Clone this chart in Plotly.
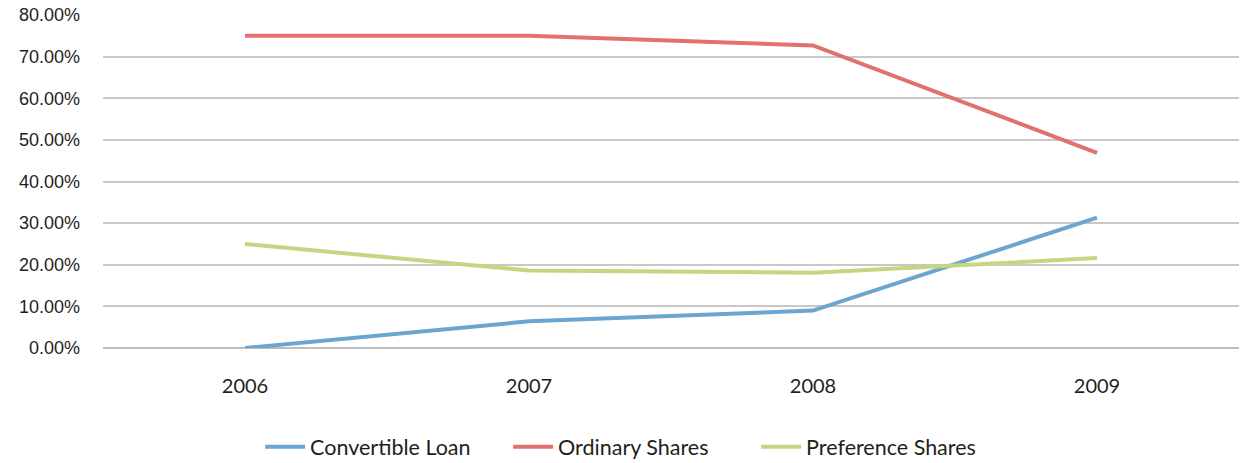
import plotly.graph_objects as go

years = ["2006", "2007", "2008", "2009"]
convertible_loan = [0.0, 6.4, 9.0, 31.3]
ordinary_shares = [75.0, 75.0, 72.7, 46.9]
preference_shares = [25.0, 18.6, 18.1, 21.6]

series = [
    ("Convertible Loan", convertible_loan, "#6ba6d0"),
    ("Ordinary Shares", ordinary_shares, "#e2716e"),
    ("Preference Shares", preference_shares, "#c4d680"),
]

fig = go.Figure()
for name, values, color in series:
    fig.add_trace(go.Scatter(
        x=years, y=values, name=name, mode="lines",
        line=dict(color=color, width=4),
    ))

label_font = "Lato, 'Open Sans', sans-serif"
value_font = "'Liberation Sans', Arial, sans-serif"

fig.update_layout(
    width=1241, height=463,
    margin=dict(l=103, r=2, t=15, b=115),
    paper_bgcolor="white", plot_bgcolor="white",
    font=dict(family=label_font, size=20, color="#1e1e1e"),
    showlegend=True,
    legend=dict(
        orientation="h", xref="container", yref="container",
        x=0.2096, y=0.035, xanchor="left", yanchor="middle",
        font=dict(family=label_font, size=21.5, color="#1e1e1e"),
        itemwidth=40, entrywidth=193, tracegroupgap=0,
    ),
    xaxis=dict(
        type="category", range=[-0.5, 3.5],
        showgrid=False, zeroline=False, showline=False,
        ticks="", ticklabelstandoff=24,
        tickfont=dict(family=label_font, size=20, color="#1e1e1e"),
    ),
    yaxis=dict(
        range=[0, 80], dtick=10,
        tickformat=".2f", ticksuffix="%",
        showgrid=True, gridcolor="#c8c8c8", gridwidth=1.5,
        zeroline=True, zerolinecolor="#bdbdbd", zerolinewidth=2,
        showline=False, ticks="", ticklabelstandoff=22,
        tickfont=dict(family=value_font, size=18, color="#1e1e1e"),
    ),
)

fig.write_html("out.html")
